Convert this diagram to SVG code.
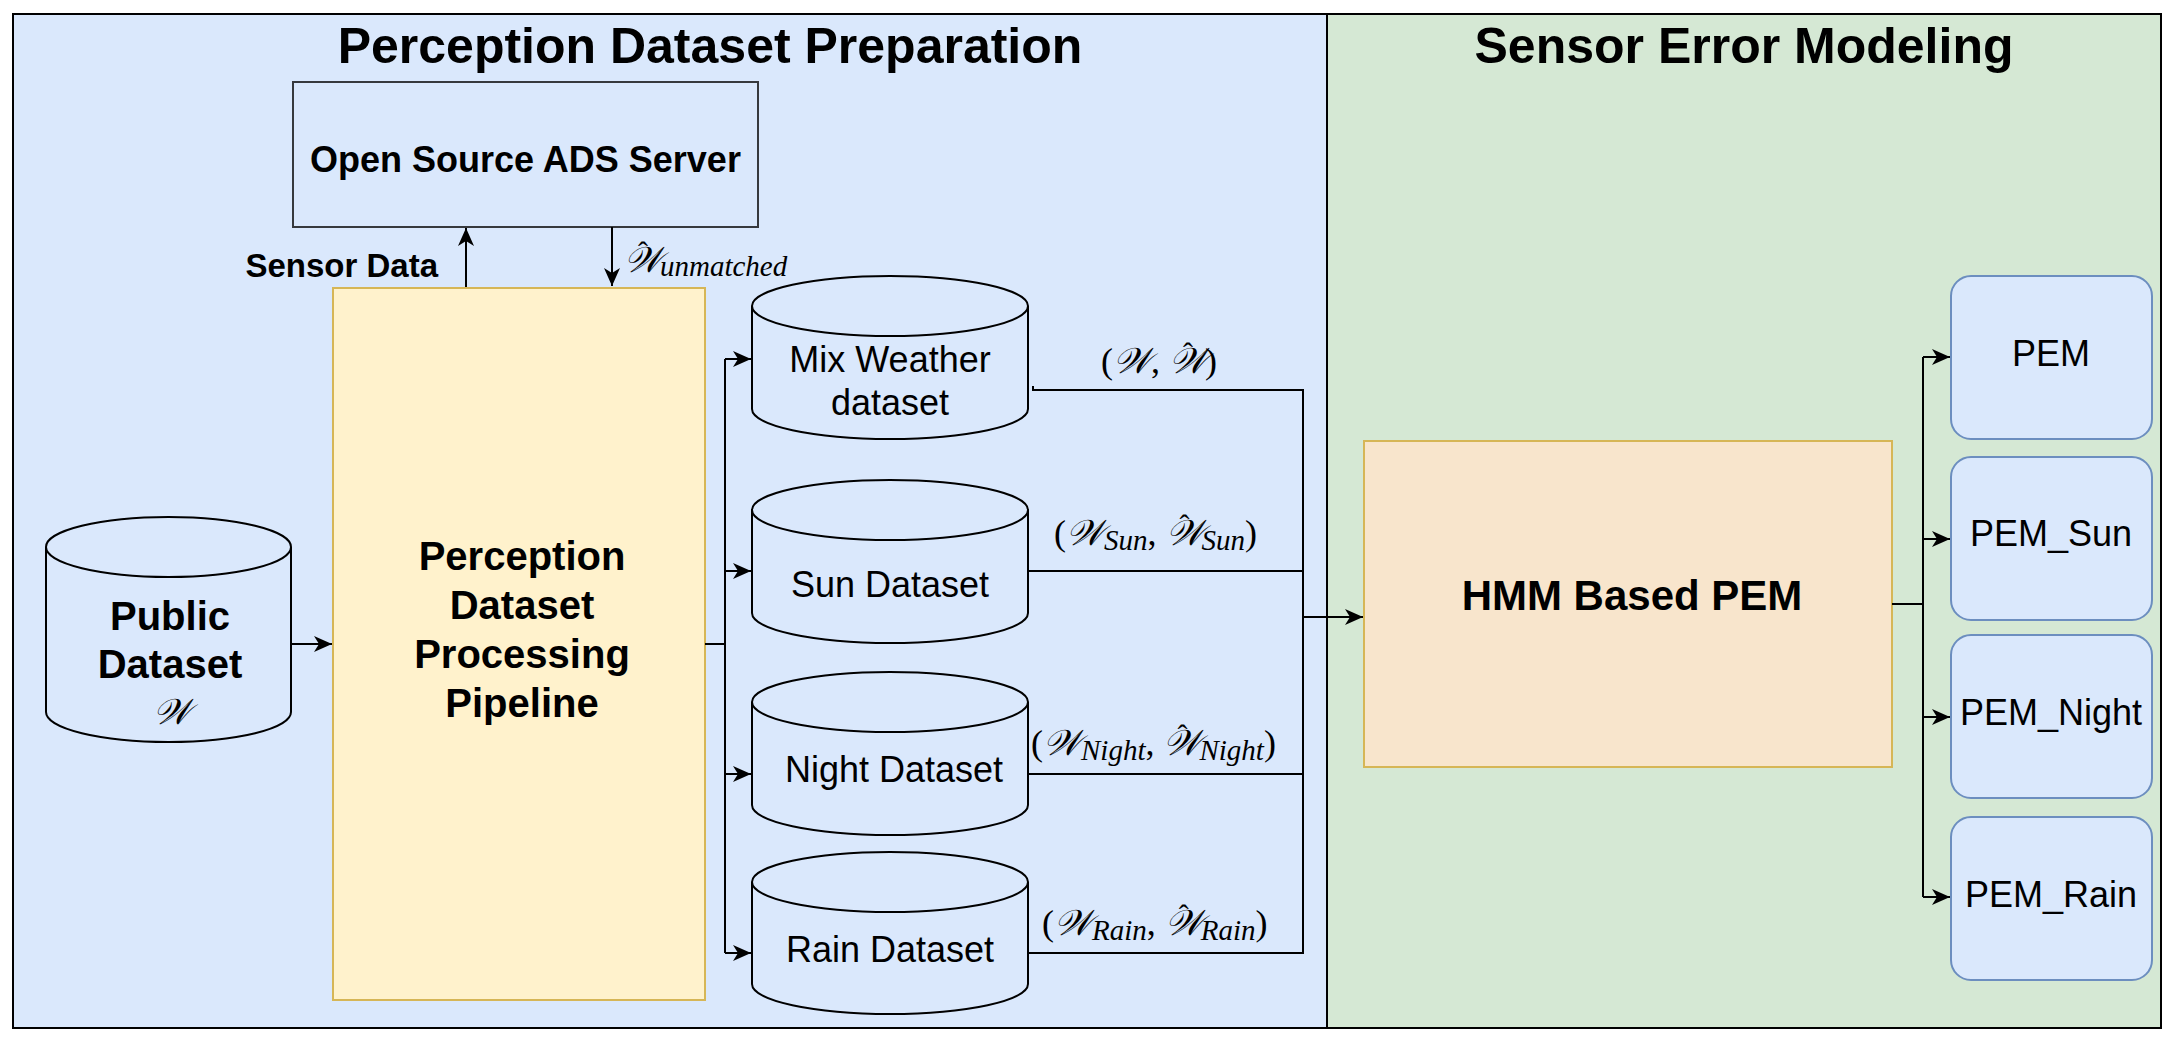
<svg xmlns="http://www.w3.org/2000/svg" width="2174" height="1042" viewBox="0 0 2174 1042">
<defs>
<style>
.title{font-family:"Liberation Sans",Arial,sans-serif;font-weight:bold;font-size:50px;fill:#000}
.bold{font-family:"Liberation Sans",Arial,sans-serif;font-weight:bold;fill:#000}
.reg{font-family:"Liberation Sans",Arial,sans-serif;font-size:36px;fill:#000}
.math{font-family:"Liberation Serif","DejaVu Serif",serif;font-size:36px;fill:#000}
.it{font-style:italic}
.sub{font-style:italic;font-size:29px}
.hat{font-size:30px}
.cyl{fill:#dae8fc;stroke:#000;stroke-width:2}
.pem{fill:#dae8fc;stroke:#6c8ebf;stroke-width:2}
.conn{fill:none;stroke:#000;stroke-width:2}
</style>
<marker id="arr" markerUnits="userSpaceOnUse" markerWidth="20" markerHeight="18" refX="18" refY="8" orient="auto" viewBox="0 0 20 16">
<path d="M0,0 L18,8 L0,16 L5,8 Z" fill="#000"/>
</marker>
</defs>

<g id="background">
<rect x="13" y="14" width="1314" height="1014" fill="#dae8fc"/>
<rect x="1327" y="14" width="834" height="1014" fill="#d5e8d4"/>
<rect x="13" y="14" width="2148" height="1014" fill="none" stroke="#000" stroke-width="2"/>
<line x1="1327" y1="14" x2="1327" y2="1028" stroke="#000" stroke-width="2"/>
<text class="title" x="710" y="63" text-anchor="middle">Perception Dataset Preparation</text>
<text class="title" x="1744" y="63" text-anchor="middle">Sensor Error Modeling</text>
</g>

<g id="server">
<rect x="293" y="82" width="465" height="145" fill="#dae8fc" stroke="#36393d" stroke-width="2"/>
<text class="bold" font-size="36" x="525.5" y="172" text-anchor="middle">Open Source ADS Server</text>
</g>

<g id="public-dataset">
<path class="cyl" d="M46,547 V712 A122.5,30 0 0 0 291,712 V547"/>
<ellipse class="cyl" cx="168.5" cy="547" rx="122.5" ry="30"/>
<text class="bold" font-size="40" x="170" y="630" text-anchor="middle">Public</text>
<text class="bold" font-size="40" x="170" y="678" text-anchor="middle">Dataset</text>
<text class="math it" font-size="42" x="172" y="724" text-anchor="middle">𝒲</text>
</g>

<g id="pipeline">
<rect x="333" y="288" width="372" height="712" fill="#fff2cc" stroke="#d6b656" stroke-width="2"/>
<text class="bold" font-size="40" x="522" y="570" text-anchor="middle">Perception</text>
<text class="bold" font-size="40" x="522" y="619" text-anchor="middle">Dataset</text>
<text class="bold" font-size="40" x="522" y="668" text-anchor="middle">Processing</text>
<text class="bold" font-size="40" x="522" y="717" text-anchor="middle">Pipeline</text>
</g>

<g id="mix-dataset">
<path class="cyl" d="M752,306 V409 A138,30 0 0 0 1028,409 V306"/>
<ellipse class="cyl" cx="890" cy="306" rx="138" ry="30"/>
<text class="reg" x="890" y="372" text-anchor="middle">Mix Weather</text>
<text class="reg" x="890" y="415" text-anchor="middle">dataset</text>
</g>

<g id="sun-dataset">
<path class="cyl" d="M752,510 V613 A138,30 0 0 0 1028,613 V510"/>
<ellipse class="cyl" cx="890" cy="510" rx="138" ry="30"/>
<text class="reg" x="890" y="597" text-anchor="middle">Sun Dataset</text>
</g>

<g id="night-dataset">
<path class="cyl" d="M752,702 V805 A138,30 0 0 0 1028,805 V702"/>
<ellipse class="cyl" cx="890" cy="702" rx="138" ry="30"/>
<text class="reg" x="894" y="782" text-anchor="middle">Night Dataset</text>
</g>

<g id="rain-dataset">
<path class="cyl" d="M752,882 V984 A138,30 0 0 0 1028,984 V882"/>
<ellipse class="cyl" cx="890" cy="882" rx="138" ry="30"/>
<text class="reg" x="890" y="962" text-anchor="middle">Rain Dataset</text>
</g>

<g id="hmm">
<rect x="1364" y="441" width="528" height="326" fill="#f8e5cc" stroke="#d6b656" stroke-width="2"/>
<text class="bold" font-size="42" x="1632" y="610" text-anchor="middle">HMM Based PEM</text>
</g>

<g id="pem">
<rect class="pem" x="1951" y="276" width="201" height="163" rx="20" ry="20"/>
<text class="reg" x="2051" y="366" text-anchor="middle">PEM</text>
</g>
<g id="pem-sun">
<rect class="pem" x="1951" y="457" width="201" height="163" rx="20" ry="20"/>
<text class="reg" x="2051" y="546" text-anchor="middle">PEM_Sun</text>
</g>
<g id="pem-night">
<rect class="pem" x="1951" y="635" width="201" height="163" rx="20" ry="20"/>
<text class="reg" x="2051" y="725" text-anchor="middle">PEM_Night</text>
</g>
<g id="pem-rain">
<rect class="pem" x="1951" y="817" width="201" height="163" rx="20" ry="20"/>
<text class="reg" x="2051" y="907" text-anchor="middle">PEM_Rain</text>
</g>

<g id="connectors">
<path class="conn" d="M466,287 V228" marker-end="url(#arr)"/>
<text class="bold" font-size="33" x="438" y="277" text-anchor="end">Sensor Data</text>
<path class="conn" d="M612,227 V286" marker-end="url(#arr)"/>
<text class="math" x="624" y="272"><tspan class="it">𝒲</tspan><tspan class="hat" dx="-24" dy="-10">ˆ</tspan><tspan class="sub" dx="12" dy="14">unmatched</tspan></text>

<path class="conn" d="M291,644 H332" marker-end="url(#arr)"/>
<path class="conn" d="M705,644 H725"/>
<path class="conn" d="M725,359 V953"/>
<path class="conn" d="M725,359 H751" marker-end="url(#arr)"/>
<path class="conn" d="M725,571 H751" marker-end="url(#arr)"/>
<path class="conn" d="M725,774 H751" marker-end="url(#arr)"/>
<path class="conn" d="M725,953 H751" marker-end="url(#arr)"/>

<path class="conn" d="M1033,386 V390 H1303 V953 H1028"/>
<path class="conn" d="M1028,571 H1303"/>
<path class="conn" d="M1028,774 H1303"/>
<path class="conn" d="M1303,617 H1363" stroke-width="2.5" marker-end="url(#arr)"/>

<text class="math" x="1101" y="373">(<tspan class="it">𝒲</tspan>, <tspan class="it">𝒲</tspan><tspan class="hat" dx="-24" dy="-10">ˆ</tspan><tspan dx="12" dy="10">)</tspan></text>
<text class="math" x="1054" y="545">(<tspan class="it">𝒲</tspan><tspan class="sub" dy="5">Sun</tspan><tspan dy="-5">, </tspan><tspan class="it">𝒲</tspan><tspan class="hat" dx="-24" dy="-10">ˆ</tspan><tspan class="sub" dx="12" dy="15">Sun</tspan><tspan dy="-5">)</tspan></text>
<text class="math" x="1031" y="755">(<tspan class="it">𝒲</tspan><tspan class="sub" dy="5">Night</tspan><tspan dy="-5">, </tspan><tspan class="it">𝒲</tspan><tspan class="hat" dx="-24" dy="-10">ˆ</tspan><tspan class="sub" dx="12" dy="15">Night</tspan><tspan dy="-5">)</tspan></text>
<text class="math" x="1042" y="935">(<tspan class="it">𝒲</tspan><tspan class="sub" dy="5">Rain</tspan><tspan dy="-5">, </tspan><tspan class="it">𝒲</tspan><tspan class="hat" dx="-24" dy="-10">ˆ</tspan><tspan class="sub" dx="12" dy="15">Rain</tspan><tspan dy="-5">)</tspan></text>

<path class="conn" d="M1892,604 H1923"/>
<path class="conn" d="M1923,357 V897"/>
<path class="conn" d="M1923,357 H1950" marker-end="url(#arr)"/>
<path class="conn" d="M1923,539 H1950" marker-end="url(#arr)"/>
<path class="conn" d="M1923,717 H1950" marker-end="url(#arr)"/>
<path class="conn" d="M1923,897 H1950" marker-end="url(#arr)"/>
</g>
</svg>
